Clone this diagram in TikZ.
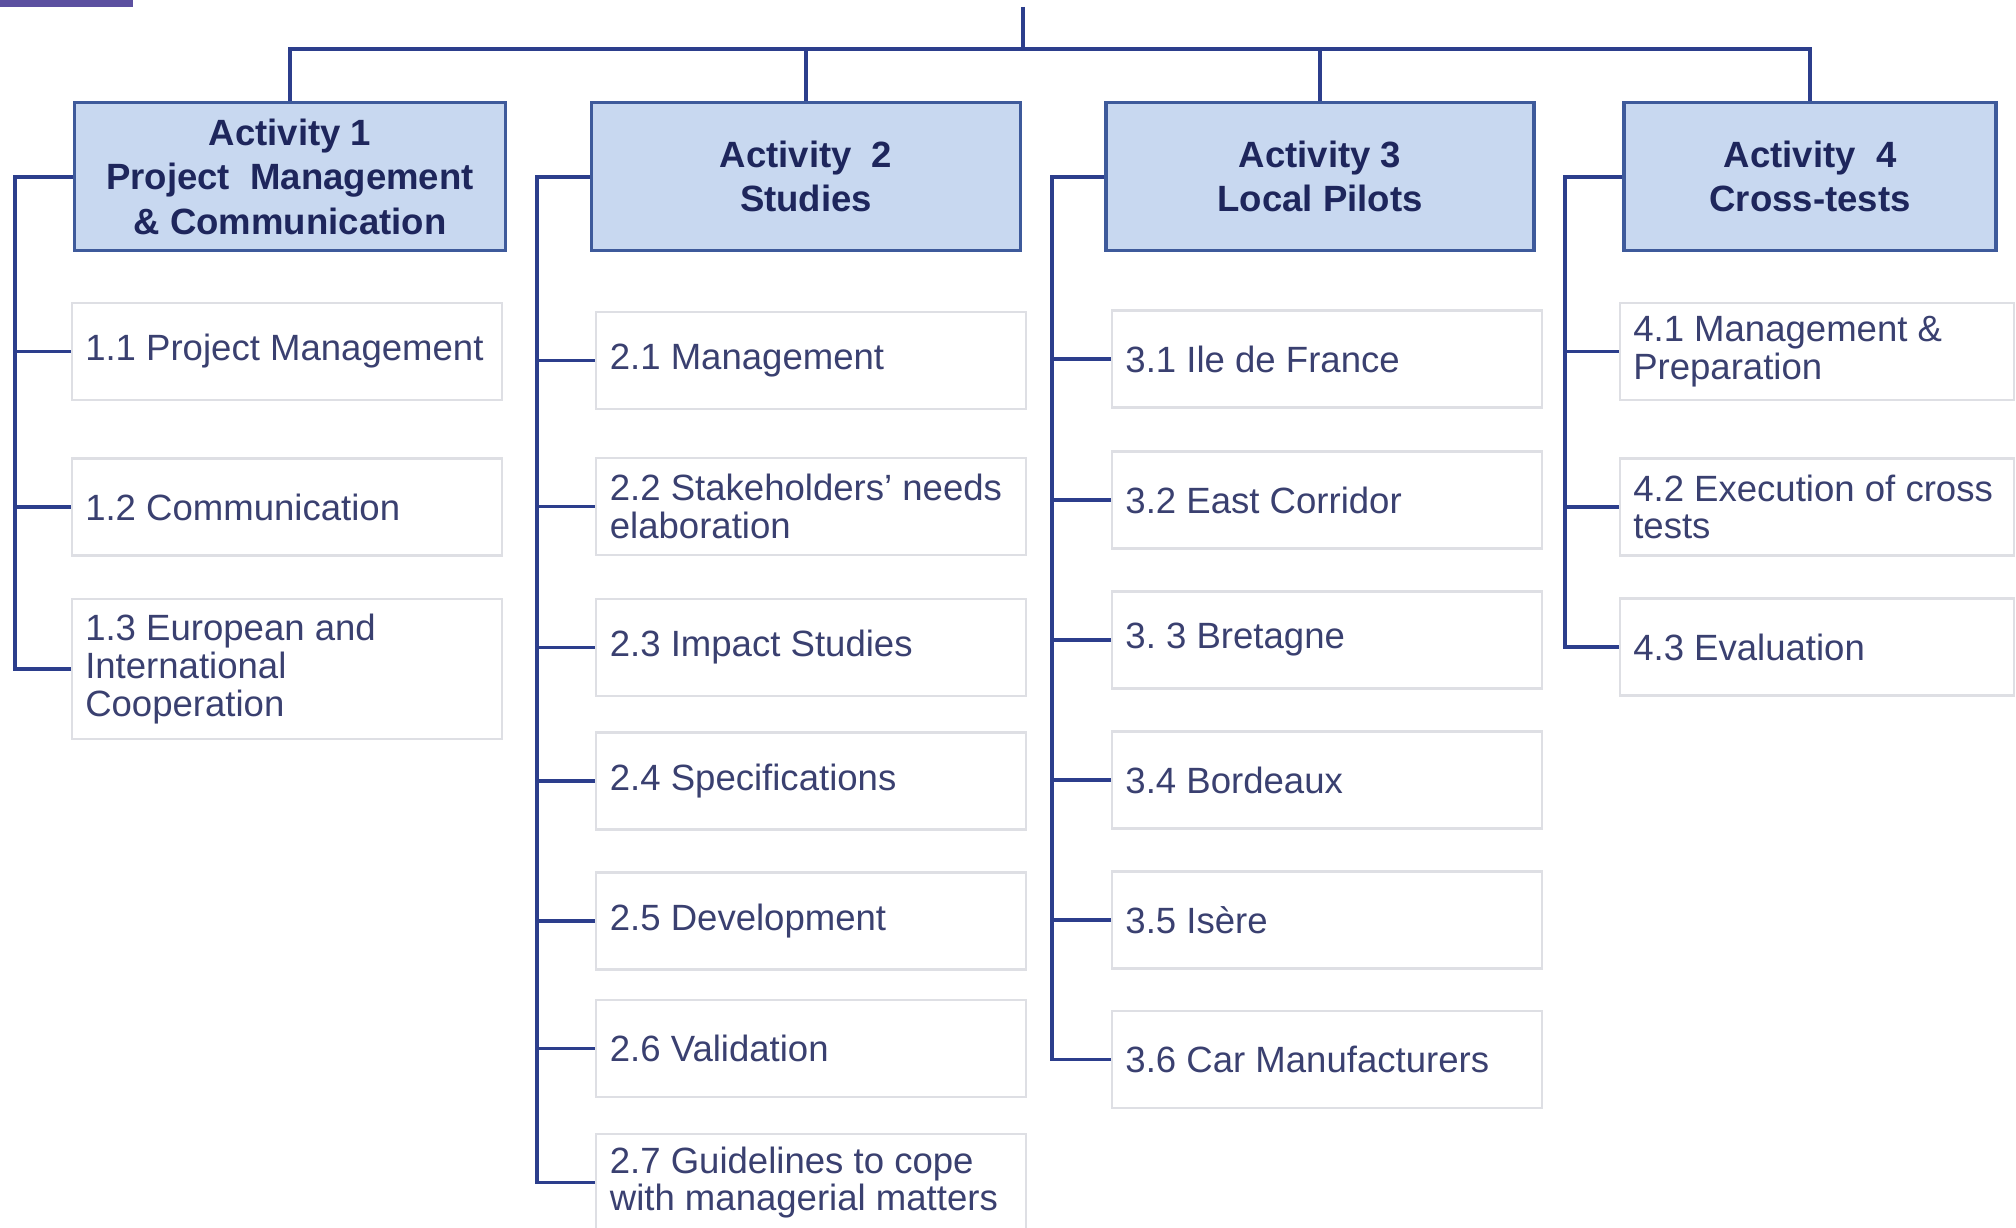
\documentclass[tikz,border=0pt]{standalone}
\usepackage{fontspec}
\setmainfont{Liberation Sans}
\definecolor{wbsline}{RGB}{44,62,140}
\definecolor{actfill}{RGB}{200,216,240}
\definecolor{actdraw}{RGB}{62,90,155}
\definecolor{acttext}{RGB}{30,38,92}
\definecolor{tasktext}{RGB}{58,64,112}
\definecolor{taskdraw}{RGB}{222,223,228}
\definecolor{topbar}{RGB}{92,80,160}
\begin{document}
\begin{tikzpicture}[
  wire/.style={wbsline, line width=1.1pt},
  act/.style={draw=actdraw, line width=0.9pt, fill=actfill, text=acttext, font=\fontsize{10.4}{12.6}\selectfont\bfseries, align=center, minimum height=1.48cm, inner sep=0pt},
  task/.style={draw=taskdraw, line width=0.6pt, fill=white, text=tasktext, font=\fontsize{10.4}{10.7}\selectfont, align=flush left, anchor=west, minimum height=0.97cm, text width=4.03cm, inner xsep=0.135cm},
  narrow/.style={text width=3.67cm}
]
\useasboundingbox (0,0) rectangle (20.16,-12.28);
\fill[white] (0,0) rectangle (20.16,-12.28);
\fill[topbar] (0,0) rectangle (1.33,-0.075);

\node[act, minimum width=4.31cm] (a1) at (2.90,-1.768) {Activity 1\\Project\ \ Management\\\& Communication};
\node[act, minimum width=4.29cm] (a2) at (8.06,-1.768) {Activity\ \ 2\\Studies};
\node[act, minimum width=4.28cm] (a3) at (13.20,-1.768) {Activity 3\\Local Pilots};
\node[act, minimum width=3.72cm] (a4) at (18.10,-1.768) {Activity\ \ 4\\Cross-tests};

\node[task] (t11) at (0.707,-3.515) {1.1 Project Management};
\node[task] (t12) at (0.707,-5.07) {1.2 Communication};
\node[task, minimum height=1.40cm] (t13) at (0.707,-6.69) {1.3 European and\\International\\Cooperation};

\node[task] (t21) at (5.953,-3.605) {2.1 Management};
\node[task] (t22) at (5.953,-5.065) {2.2 Stakeholders' needs\\elaboration};
\node[task] (t23) at (5.953,-6.475) {2.3 Impact Studies};
\node[task] (t24) at (5.953,-7.81) {2.4 Specifications};
\node[task] (t25) at (5.953,-9.21) {2.5 Development};
\node[task] (t26) at (5.953,-10.485) {2.6 Validation};
\node[task] (t27) at (5.953,-11.825) {2.7 Guidelines to cope\\with managerial matters};

\node[task] (t31) at (11.109,-3.59) {3.1 Ile de France};
\node[task] (t32) at (11.109,-5.0) {3.2 East Corridor};
\node[task] (t33) at (11.109,-6.40) {3.\ 3 Bretagne};
\node[task] (t34) at (11.109,-7.80) {3.4 Bordeaux};
\node[task] (t35) at (11.109,-9.20) {3.5 Isère};
\node[task] (t36) at (11.109,-10.595) {3.6 Car Manufacturers};

\node[task, narrow] (t41) at (16.187,-3.515) {4.1 Management \&\\Preparation};
\node[task, narrow] (t42) at (16.187,-5.07) {4.2 Execution of cross\\tests};
\node[task, narrow] (t43) at (16.187,-6.47) {4.3 Evaluation};

\coordinate (top) at (10.234,-0.07);
\coordinate (bar) at (10.234,-0.489);
\draw[wire] (top) -- (bar);
\draw[wire] (a1.north) -- (a1.north |- bar) -- (a4.north |- bar) -- (a4.north);
\draw[wire] (a2.north) -- (a2.north |- bar);
\draw[wire] (a3.north) -- (a3.north |- bar);

\coordinate (b1) at (0.154,0);
\coordinate (b2) at (5.374,0);
\coordinate (b3) at (10.517,0);
\coordinate (b4) at (15.647,0);
\draw[wire] (a1.west) -- (a1.west -| b1) |- (t13.west);
\draw[wire] (a2.west) -- (a2.west -| b2) |- (t27.west);
\draw[wire] (a3.west) -- (a3.west -| b3) |- (t36.west);
\draw[wire] (a4.west) -- (a4.west -| b4) |- (t43.west);
\foreach \t in {t11,t12} \draw[wire] (\t.west -| b1) -- (\t.west);
\foreach \t in {t21,t22,t23,t24,t25,t26} \draw[wire] (\t.west -| b2) -- (\t.west);
\foreach \t in {t31,t32,t33,t34,t35} \draw[wire] (\t.west -| b3) -- (\t.west);
\foreach \t in {t41,t42} \draw[wire] (\t.west -| b4) -- (\t.west);
\end{tikzpicture}
\end{document}
